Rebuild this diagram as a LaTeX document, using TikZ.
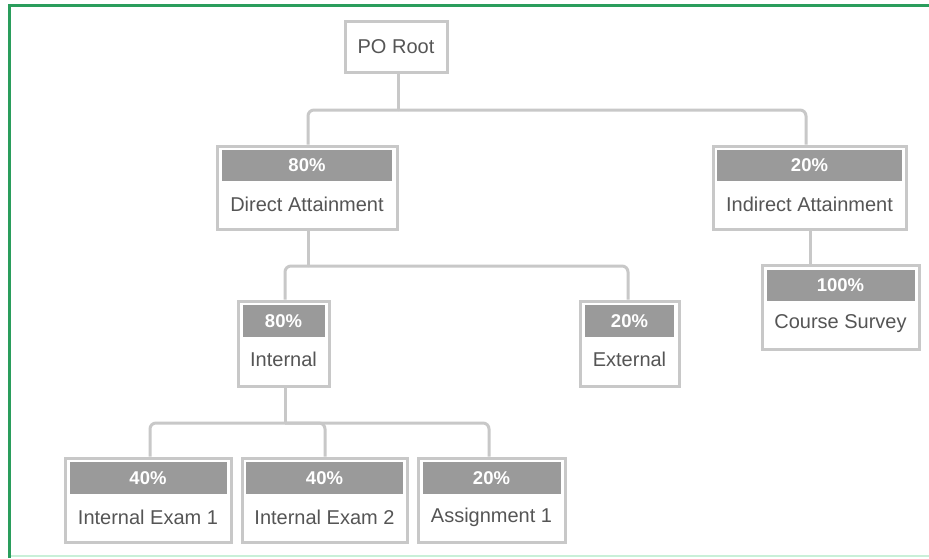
\documentclass[tikz,border=0pt]{standalone}
\usepackage{fontspec}
\setmainfont{Liberation Sans}
\definecolor{frame}{HTML}{2A9D5C}
\definecolor{paleframe}{HTML}{C9F0D8}
\definecolor{boxline}{HTML}{C8C8C8}
\definecolor{head}{HTML}{9A9A9A}
\definecolor{txt}{HTML}{555555}
\begin{document}
\begin{tikzpicture}[x=1pt,y=-1pt,
  box/.style={draw=boxline,line width=3pt,fill=white,inner sep=0pt},
  headbar/.style={fill=head,inner sep=0pt,text=white,font=\fontsize{18.5}{18.5}\selectfont\bfseries},
  label/.style={text=txt,font=\fontsize{20}{20}\selectfont,inner sep=0pt},
  conn/.style={draw=boxline,line width=3pt,rounded corners=6pt}]
\useasboundingbox (0,0) rectangle (929,558);
\fill[white] (0,0) rectangle (929,558);
% frame
\draw[paleframe,line width=2pt] (9,556) -- (929,556);
\draw[frame,line width=3pt] (9.5,558) -- (9.5,5.5) -- (929,5.5);

% PO Root
\node[box,minimum width=102pt,minimum height=51pt] (root) at (396,46.5) {};
\node[label] (rootT) at (396,46.5) {PO Root};

% Direct Attainment
\node[box,minimum width=180pt,minimum height=83pt] (da) at (307,187.5) {};
\node[headbar,minimum width=170pt,minimum height=31pt] (daH) at (307,165.5) {80\%};
\node[label] (daT) at (307,204) {Direct Attainment};

% Indirect Attainment
\node[box,minimum width=193pt,minimum height=83pt] (ia) at (809.5,187.5) {};
\node[headbar,minimum width=185pt,minimum height=31pt] (iaH) at (809.5,165.5) {20\%};
\node[label] (iaT) at (809.5,204) {Indirect Attainment};

% Internal
\node[box,minimum width=91pt,minimum height=85pt] (in) at (283.5,343.5) {};
\node[headbar,minimum width=82pt,minimum height=32pt] (inH) at (283.5,321) {80\%};
\node[label] (inT) at (283.5,359) {Internal};

% External
\node[box,minimum width=99pt,minimum height=85pt] (ex) at (629.5,343.5) {};
\node[headbar,minimum width=89pt,minimum height=32pt] (exH) at (629.5,321) {20\%};
\node[label] (exT) at (629.5,359) {External};

% Course Survey
\node[box,minimum width=157pt,minimum height=84pt] (cs) at (840.5,307) {};
\node[headbar,minimum width=148pt,minimum height=31pt] (csH) at (840.5,285.5) {100\%};
\node[label] (csT) at (840.5,324) {Course Survey};

% Internal Exam 1
\node[box,minimum width=166pt,minimum height=84pt] (e1) at (148,500) {};
\node[headbar,minimum width=157pt,minimum height=32pt] (e1H) at (148,478) {40\%};
\node[label] (e1T) at (148,517) {Internal Exam 1};

% Internal Exam 2
\node[box,minimum width=165pt,minimum height=84pt] (e2) at (324.5,500) {};
\node[headbar,minimum width=157pt,minimum height=32pt] (e2H) at (324.5,478) {40\%};
\node[label] (e2T) at (324.5,517) {Internal Exam 2};

% Assignment 1
\node[box,minimum width=147pt,minimum height=84pt] (a1) at (491.5,500) {};
\node[headbar,minimum width=138pt,minimum height=32pt] (a1H) at (491.5,478) {20\%};
\node[label] (a1T) at (491.5,517) {Assignment 1};

% connectors
\coordinate (j1) at (398,110);
\coordinate (j2) at (308,266);
\coordinate (j3) at (285,423);
\draw[conn] ([xshift=2pt]root.south) -- (j1);
\draw[conn] (j1) -| ([xshift=1pt]da.north);
\draw[conn] (j1) -| ([xshift=-3.5pt]ia.north);
\draw[conn] ([xshift=0.5pt]ia.south) -- ([xshift=-30.5pt]cs.north);
\draw[conn] ([xshift=1pt]da.south) -- (j2);
\draw[conn] (j2) -| ([xshift=1.5pt]in.north);
\draw[conn] (j2) -| ([xshift=-1.5pt]ex.north);
\draw[conn] ([xshift=1.5pt]in.south) -- (j3);
\draw[conn] (j3) -| ([xshift=2pt]e1.north);
\draw[conn] (j3) -| ([xshift=0.5pt]e2.north);
\draw[conn] (j3) -| ([xshift=-2.5pt]a1.north);
\end{tikzpicture}
\end{document}
